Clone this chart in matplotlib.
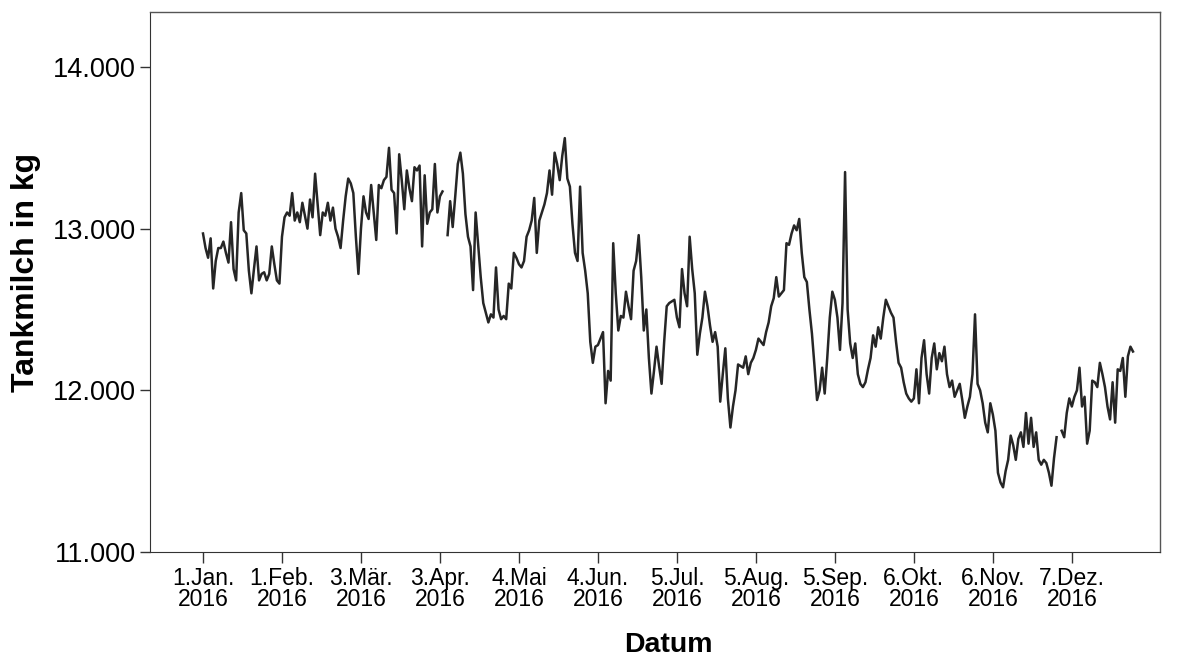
import numpy as np
import pandas as pd
import matplotlib
matplotlib.use('Agg')
import matplotlib.pyplot as plt
from matplotlib.ticker import FuncFormatter

plt.rcParams['font.family'] = ['Liberation Sans', 'DejaVu Sans']

# Tankmilch je Tag in 1000 kg, NaN = Lücke
jan = [12.97, 12.88, 12.82, 12.94, 12.63, 12.8, 12.88, 12.88, 12.92, 12.85, 12.79, 13.04, 12.75, 12.68, 13.1,
       13.22, 12.99, 12.97, 12.74, 12.6, 12.75, 12.89, 12.68, 12.72, 12.73, 12.68, 12.72, 12.89, 12.78, 12.68, 12.66]
feb = [12.95, 13.07, 13.1, 13.08, 13.22, 13.05, 13.1, 13.04, 13.16, 13.08, 13.0, 13.18, 13.07, 13.34, 13.15,
       12.96, 13.1, 13.08, 13.16, 13.05, 13.13, 13.0, 12.95, 12.88, 13.05, 13.2, 13.31, 13.28, 13.22]
mar = [12.95, 12.72, 13.0, 13.2, 13.1, 13.06, 13.27, 13.1, 12.93, 13.27, 13.25, 13.3, 13.32, 13.5, 13.24,
       13.22, 12.97, 13.46, 13.3, 13.12, 13.36, 13.25, 13.17, 13.38, 13.36, 13.39, 12.89, 13.33, 13.03, 13.1, 13.12]
apr = [13.4, 13.1, 13.2, 13.23, np.nan, 12.96, 13.17, 13.01, 13.2, 13.4, 13.47, 13.34, 13.09, 12.95, 12.89,
       12.62, 13.1, 12.9, 12.7, 12.54, 12.48, 12.42, 12.47, 12.45, 12.76, 12.5, 12.44, 12.46, 12.44, 12.66]
mai = [12.63, 12.85, 12.82, 12.78, 12.76, 12.8, 12.95, 12.99, 13.05, 13.19, 12.85, 13.05, 13.1, 13.15, 13.22,
       13.36, 13.21, 13.47, 13.4, 13.3, 13.45, 13.56, 13.31, 13.26, 13.03, 12.85, 12.8, 13.26, 12.85, 12.74, 12.6]
jun = [12.3, 12.17, 12.27, 12.28, 12.32, 12.36, 11.92, 12.12, 12.06, 12.91, 12.6, 12.37, 12.46, 12.45, 12.61,
       12.52, 12.44, 12.74, 12.8, 12.96, 12.7, 12.37, 12.5, 12.2, 11.98, 12.12, 12.27, 12.15, 12.04, 12.3]
jul = [12.52, 12.54, 12.55, 12.56, 12.45, 12.39, 12.75, 12.6, 12.52, 12.95, 12.75, 12.6, 12.22, 12.35, 12.45,
       12.61, 12.52, 12.4, 12.3, 12.36, 12.27, 11.93, 12.1, 12.26, 11.95, 11.77, 11.9, 12.0, 12.16, 12.15, 12.14]
aug = [12.21, 12.1, 12.17, 12.2, 12.25, 12.32, 12.3, 12.28, 12.36, 12.42, 12.52, 12.57, 12.7, 12.58, 12.6,
       12.62, 12.91, 12.9, 12.97, 13.02, 12.99, 13.06, 12.85, 12.7, 12.67, 12.5, 12.35, 12.15, 11.94, 12.0, 12.14]
sep = [11.98, 12.2, 12.45, 12.61, 12.56, 12.45, 12.25, 12.54, 13.35, 12.5, 12.29, 12.2, 12.29, 12.1, 12.04,
       12.02, 12.05, 12.13, 12.2, 12.34, 12.27, 12.39, 12.32, 12.45, 12.56, 12.52, 12.48, 12.45, 12.3, 12.17]
okt = [12.14, 12.05, 11.98, 11.95, 11.93, 11.95, 12.13, 11.92, 12.2, 12.31, 12.1, 11.98, 12.2, 12.29, 12.13,
       12.23, 12.18, 12.27, 12.1, 12.02, 12.06, 11.96, 12.0, 12.04, 11.94, 11.83, 11.9, 11.96, 12.1, 12.47, 12.04]
nov = [12.0, 11.92, 11.8, 11.74, 11.92, 11.85, 11.75, 11.49, 11.43, 11.4, 11.5, 11.57, 11.72, 11.66, 11.57,
       11.7, 11.74, 11.65, 11.86, 11.67, 11.83, 11.65, 11.74, 11.57, 11.54, 11.57, 11.55, 11.49, 11.41, 11.58]
dez = [11.71, np.nan, 11.75, 11.71, 11.86, 11.95, 11.9, 11.96, 12.0, 12.14, 11.9, 11.96, 11.67, 11.75, 12.06,
       12.05, 12.02, 12.17, 12.1, 12.02, 11.9, 11.82, 12.05, 11.8, 12.13, 12.12, 12.2, 11.96, 12.21, 12.27, 12.24]

milch = np.array(jan + feb + mar + apr + mai + jun + jul + aug + sep + okt + nov + dez) * 1000
datum = pd.date_range('2016-01-01', periods=len(milch), freq='D')

tick_dates = pd.date_range('2016-01-01', periods=12, freq='31D')
tick_labels = ['1.Jan.', '1.Feb.', '3.Mär.', '3.Apr.', '4.Mai', '4.Jun.',
               '5.Jul.', '5.Aug.', '5.Sep.', '6.Okt.', '6.Nov.', '7.Dez.']
y_ticks = [11000, 12000, 13000, 14000]

fig = plt.figure(figsize=(11.82, 6.61), dpi=100)
ax = fig.add_axes([150 / 1182, 109 / 661, 1010 / 1182, 540 / 661])

ax.plot(datum, milch, color='#262626', linewidth=1.8)

start = pd.Timestamp('2016-01-01')
ax.set_xlim(start - pd.Timedelta(days=20.8), start + pd.Timedelta(days=375.6))
ax.set_ylim(11000, 14340)

ax.set_xticks(tick_dates)
ax.set_xticklabels([f'{t}\n2016' for t in tick_labels], fontsize=16.5, linespacing=0.9)
ax.set_yticks(y_ticks)
ax.yaxis.set_major_formatter(FuncFormatter(lambda v, p: f'{int(v) // 1000}.{int(v) % 1000:03d}'))
ax.tick_params(axis='y', labelsize=19.5, length=7, width=1, color='#333333', pad=3)
ax.tick_params(axis='x', length=8, width=1, color='#333333', pad=3)

for side in ['left', 'bottom']:
    ax.spines[side].set_color('#333333')
for side in ['top', 'right']:
    ax.spines[side].set_color('#555555')
    ax.spines[side].set_linewidth(1.0)

ax.set_xlabel('Datum', fontsize=20.5, fontweight='bold')
ax.set_ylabel('Tankmilch in kg', fontsize=23, fontweight='bold')
ax.xaxis.set_label_coords(0.513, -0.149)
ax.yaxis.set_label_coords(-0.108, 0.518)

plt.savefig('out.png', dpi=100)
